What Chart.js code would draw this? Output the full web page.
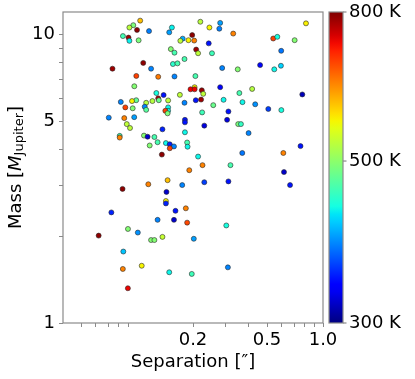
<!DOCTYPE html>
<html>
<head>
<meta charset="utf-8">
<script src="https://cdn.jsdelivr.net/npm/chart.js@4.4.1/dist/chart.umd.min.js"></script>
<style>
  body { margin: 0; background: #fff; }
  #wrap { width: 415px; height: 379px; }
</style>
</head>
<body>
<div id="wrap"><canvas id="grafico" width="415" height="379"></canvas></div>
<script>
// companions: projected separation ["], mass [M_Jup], temperature [K]
const sepArcsec = [
  0.104, 0.0955, 0.091, 0.100, 0.116, 0.084, 0.090, 0.091, 0.102, 0.154,
  0.149, 0.219, 0.245, 0.280, 0.277, 0.329, 0.810, 0.540, 0.568, 0.704,
  0.596, 0.459, 0.547, 0.594, 0.774, 0.597, 0.508, 0.432, 0.416, 0.355,
  0.369, 0.348, 0.287, 0.243, 0.198, 0.189, 0.203, 0.176, 0.171, 0.208,
  0.213, 0.253, 0.152, 0.159, 0.180, 0.156, 0.165, 0.108, 0.0738, 0.119,
  0.0991, 0.130, 0.159, 0.206, 0.0967, 0.280, 0.204, 0.194, 0.204, 0.223,
  0.227, 0.221, 0.207, 0.170, 0.127, 0.139, 0.130, 0.131, 0.147, 0.121,
  0.112, 0.099, 0.094, 0.0818, 0.0865, 0.0948, 0.110, 0.112, 0.147, 0.147,
  0.142, 0.146, 0.180, 0.257, 0.292, 0.310, 0.224, 0.0705, 0.0854, 0.0966,
  0.181, 0.181, 0.305, 0.230, 0.350, 0.362, 0.0881, 0.0917, 0.137, 0.181,
  0.398, 0.0807, 0.0807, 0.109, 0.114, 0.124, 0.117, 0.129, 0.143, 0.150,
  0.158, 0.150, 0.186, 0.187, 0.757, 0.136, 0.213, 0.368, 0.612, 0.225,
  0.318, 0.191, 0.617, 0.665, 0.115, 0.146, 0.175, 0.230, 0.310, 0.0836,
  0.144, 0.143, 0.143, 0.0728, 0.161, 0.183, 0.129, 0.158, 0.186, 0.302,
  0.0894, 0.101, 0.0622, 0.119, 0.124, 0.137, 0.202, 0.0844, 0.106, 0.0839,
  0.149, 0.197, 0.308, 0.0893
];
const massMjup = [
  11.2, 10.8, 10.6, 10.4, 10.3, 9.90, 9.78, 9.53, 9.57, 10.6,
  10.2, 11.1, 10.6, 11.0, 10.5, 10.1, 10.96, 9.71, 9.84, 9.58,
  8.80, 7.85, 7.59, 7.81, 6.21, 5.48, 5.53, 5.74, 6.49, 6.28,
  5.84, 7.59, 7.67, 9.34, 9.98, 9.58, 9.55, 9.70, 9.53, 8.89,
  8.63, 8.63, 8.92, 8.67, 8.24, 7.92, 7.96, 7.99, 7.63, 7.63,
  7.20, 7.15, 7.17, 7.19, 6.63, 6.58, 6.58, 6.47, 6.47, 6.42,
  6.24, 5.96, 5.93, 6.19, 6.28, 6.18, 6.02, 5.93, 5.92, 5.89,
  5.81, 5.93, 5.89, 5.85, 5.60, 5.56, 5.63, 5.49, 5.60, 5.45,
  5.45, 5.34, 5.81, 5.70, 5.95, 5.42, 5.38, 5.16, 5.14, 5.18,
  5.07, 4.97, 5.07, 4.84, 4.90, 4.90, 4.90, 4.75, 4.70, 4.59,
  4.56, 4.46, 4.40, 4.47, 4.43, 4.42, 4.13, 4.24, 4.21, 4.17,
  4.10, 4.04, 4.23, 4.09, 4.11, 3.84, 3.78, 3.89, 3.89, 3.53,
  3.53, 3.39, 3.34, 3.01, 3.03, 3.13, 3.01, 3.08, 3.10, 2.92,
  2.85, 2.65, 2.60, 2.42, 2.45, 2.50, 2.28, 2.28, 2.23, 2.18,
  2.12, 2.06, 2.01, 1.94, 1.94, 1.99, 1.96, 1.77, 1.58, 1.54,
  1.50, 1.48, 1.56, 1.32
];
const teffK = [
  600, 490, 527, 790, 383, 458, 780, 428, 490, 428,
  395, 527, 568, 395, 383, 640, 570, 685, 435, 495,
  380, 340, 430, 415, 315, 435, 360, 390, 525, 460,
  430, 495, 385, 345, 790, 568, 640, 400, 530, 780,
  530, 455, 495, 460, 460, 445, 460, 790, 780, 385,
  685, 645, 385, 460, 495, 335, 568, 730, 730, 785,
  530, 780, 345, 530, 435, 345, 770, 480, 530, 525,
  525, 475, 568, 385, 685, 495, 385, 470, 430, 430,
  685, 490, 385, 480, 430, 345, 455, 385, 640, 395,
  345, 345, 325, 325, 490, 450, 530, 530, 350, 430,
  385, 455, 640, 495, 320, 460, 495, 460, 430, 350,
  385, 685, 460, 430, 345, 790, 430, 380, 640, 640,
  460, 640, 320, 345, 640, 600, 385, 360, 345, 790,
  320, 568, 350, 350, 345, 640, 385, 320, 680, 435,
  495, 390, 790, 495, 495, 535, 395, 410, 568, 640,
  430, 455, 385, 730
];

const xTicks = [0.05, 0.06, 0.07, 0.08, 0.09, 0.2, 0.3, 0.4, 0.5, 0.6, 0.7, 0.8, 0.9, 1.0];
const xTickLabels = { 0.2: '0.2', 0.5: '0.5', 1: '1.0' };
const yTicks = [1, 2, 3, 4, 5, 6, 7, 8, 9, 10];
const yTickLabels = { 1: '1', 5: '5', 10: '10' };
const tempTicks = [300, 500, 800];
const tMin = 300, tMax = 800;

// matplotlib "jet"
const jetR = [[0, 0], [0.35, 0], [0.66, 1], [0.89, 1], [1, 0.5]];
const jetG = [[0, 0], [0.125, 0], [0.375, 1], [0.64, 1], [0.91, 0], [1, 0]];
const jetB = [[0, 0.5], [0.11, 1], [0.34, 1], [0.65, 0], [1, 0]];
function interp(pts, t) {
  for (let i = 1; i < pts.length; i++) {
    if (t <= pts[i][0]) {
      const a = pts[i - 1], b = pts[i];
      return a[1] + (b[1] - a[1]) * (t - a[0]) / (b[0] - a[0]);
    }
  }
  return pts[pts.length - 1][1];
}
function jet(t) {
  t = Math.max(0, Math.min(1, t));
  const c = v => Math.round(255 * v);
  return 'rgb(' + c(interp(jetR, t)) + ',' + c(interp(jetG, t)) + ',' + c(interp(jetB, t)) + ')';
}
function tempColor(T) {
  return jet(Math.log(T / tMin) / Math.log(tMax / tMin));
}

const points = sepArcsec.map((s, i) => ({ x: s, y: massMjup[i] }));
const colors = teffK.map(tempColor);

const fonte = "'DejaVu Sans', sans-serif";
const cinza = '#8a8a8a';

// no extra room for edge labels, the plot box is fixed by the paddings
function semPadding(s) {
  s.paddingTop = 0; s.paddingBottom = 0; s.paddingLeft = 0; s.paddingRight = 0;
}

const extras = {
  id: 'extras',
  afterDatasetsDraw(chart) {
    const { ctx, chartArea: a, scales } = chart;
    ctx.save();
    ctx.strokeStyle = cinza;
    ctx.lineWidth = 1.2;
    ctx.strokeRect(a.left, a.top, a.right - a.left, a.bottom - a.top);

    // colorbar
    const cb = scales.cb;
    const x0 = a.right + 6, w = 14;
    const g = ctx.createLinearGradient(0, a.bottom, 0, a.top);
    for (let i = 0; i <= 40; i++) g.addColorStop(i / 40, jet(i / 40));
    ctx.fillStyle = g;
    ctx.fillRect(x0, a.top, w, a.bottom - a.top);
    ctx.strokeRect(x0, a.top, w, a.bottom - a.top);
    tempTicks.forEach(v => {
      const y = cb.getPixelForValue(v);
      ctx.beginPath();
      ctx.moveTo(x0 + w, y);
      ctx.lineTo(x0 + w + 3.5, y);
      ctx.stroke();
    });

    // y title with subscript
    const parts = [
      { t: 'Mass [', f: '18px ' + fonte, dy: 0 },
      { t: 'M', f: 'italic 18px ' + fonte, dy: 0 },
      { t: 'Jupiter', f: '13px ' + fonte, dy: 4 },
      { t: ']', f: '18px ' + fonte, dy: 0 }
    ];
    let total = 0;
    parts.forEach(p => { ctx.font = p.f; p.w = ctx.measureText(p.t).width; total += p.w; });
    ctx.translate(16, (a.top + a.bottom) / 2);
    ctx.rotate(-Math.PI / 2);
    ctx.fillStyle = '#000';
    ctx.textBaseline = 'middle';
    ctx.textAlign = 'left';
    let x = -total / 2;
    parts.forEach(p => { ctx.font = p.f; ctx.fillText(p.t, x, p.dy); x += p.w; });
    ctx.restore();
  }
};

new Chart(document.getElementById('grafico'), {
  type: 'scatter',
  data: {
    datasets: [{
      data: points,
      pointBackgroundColor: colors,
      pointBorderColor: 'rgba(40,40,40,0.85)',
      pointBorderWidth: 0.7,
      pointRadius: 2.5
    }]
  },
  options: {
    responsive: false,
    devicePixelRatio: 1,
    animation: false,
    events: [],
    layout: { padding: { top: 12, left: 0, right: 0, bottom: 0 } },
    plugins: { legend: { display: false }, tooltip: { enabled: false } },
    scales: {
      x: {
        type: 'logarithmic',
        position: 'bottom',
        min: 0.04,
        max: 1,
        afterBuildTicks: s => { s.ticks = xTicks.map(v => ({ value: v })); },
        afterFit: s => { s.height = 56; semPadding(s); },
        grid: { drawOnChartArea: false, tickLength: 4, tickColor: cinza },
        border: { display: false },
        ticks: {
          autoSkip: false, maxRotation: 0, padding: 3, color: '#000',
          font: { family: fonte, size: 18 },
          callback: v => xTickLabels[v] || ''
        },
        title: {
          display: true, text: 'Separation [\u2033]', color: '#000',
          font: { family: fonte, size: 18 }, padding: { top: 0, bottom: 6 }
        }
      },
      y: {
        type: 'logarithmic',
        position: 'left',
        min: 1,
        max: 12,
        afterBuildTicks: s => { s.ticks = yTicks.map(v => ({ value: v })); },
        afterFit: s => { s.width = 63; semPadding(s); },
        grid: { drawOnChartArea: false, tickLength: 4, tickColor: cinza },
        border: { display: false },
        ticks: {
          autoSkip: false, padding: 4, color: '#000',
          font: { family: fonte, size: 18 },
          callback: v => yTickLabels[v] || ''
        }
      },
      cb: {
        type: 'logarithmic',
        position: 'right',
        min: tMin,
        max: tMax,
        afterBuildTicks: s => { s.ticks = tempTicks.map(v => ({ value: v })); },
        afterFit: s => { s.width = 92; semPadding(s); },
        grid: { display: false, drawTicks: false },
        border: { display: false },
        ticks: {
          autoSkip: false, padding: 26, color: '#000',
          font: { family: fonte, size: 18 },
          callback: v => v + ' K'
        }
      }
    }
  },
  plugins: [extras]
});
</script>
</body>
</html>
